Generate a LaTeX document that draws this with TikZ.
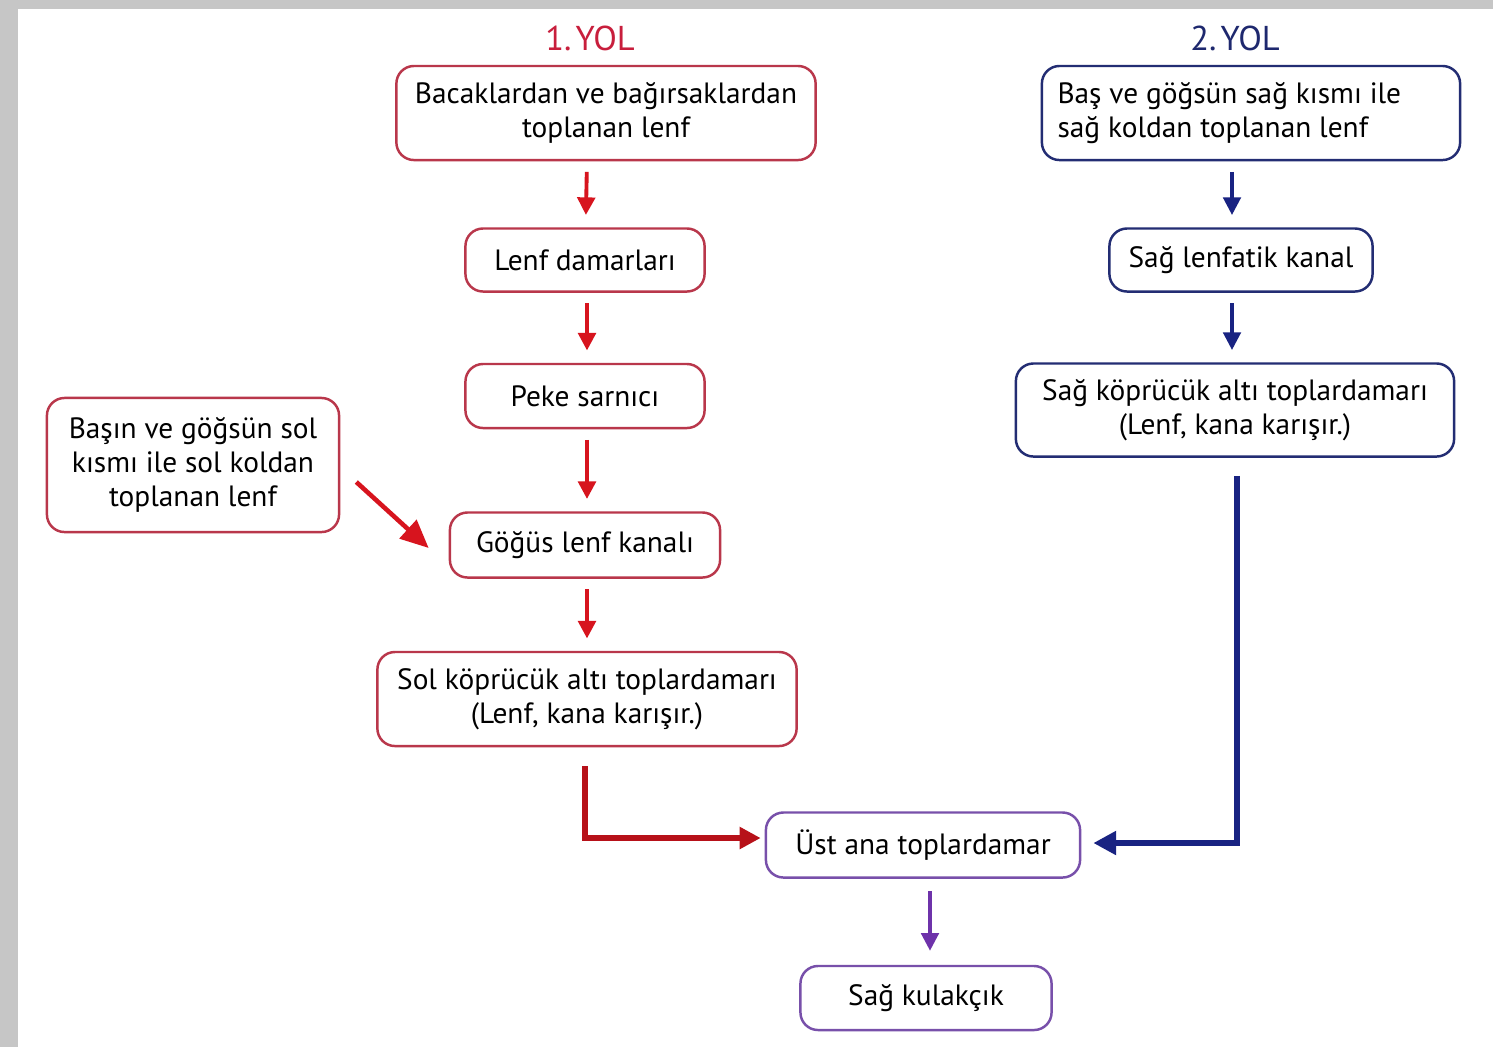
\documentclass[tikz,border=0pt]{standalone}
\usepackage{fontspec}
\setmainfont{PT Sans}
\usetikzlibrary{arrows.meta}

\definecolor{yolred}{RGB}{200,30,60}
\definecolor{boxred}{RGB}{185,55,75}
\definecolor{arrred}{RGB}{215,20,30}
\definecolor{yolblue}{RGB}{30,40,110}
\definecolor{boxblue}{RGB}{35,45,115}
\definecolor{arrblue}{RGB}{25,35,130}
\definecolor{boxpurple}{RGB}{120,80,170}
\definecolor{arrpurple}{RGB}{110,50,170}

\begin{document}
\begin{tikzpicture}[x=0.01cm,y=-0.01cm,
    box/.style={draw,line width=0.7pt,rounded corners=5pt,fill=white,align=center,
      inner sep=0pt,font=\fontsize{8.35}{9.7}\selectfont},
    redbox/.style={box,draw=boxred},
    bluebox/.style={box,draw=boxblue},
    purplebox/.style={box,draw=boxpurple},
    title/.style={font=\fontsize{9.8}{11}\selectfont},
    redarrow/.style={draw=arrred,line width=1.1pt,-{Triangle[length=5pt,width=5pt]},shorten <=3pt,shorten >=3.5pt},
    bluearrow/.style={draw=arrblue,line width=0.9pt,-{Triangle[length=5pt,width=5pt]},shorten <=3pt,shorten >=3.5pt},
    purplearrow/.style={draw=arrpurple,line width=0.9pt,-{Triangle[length=5pt,width=5pt]},shorten <=3.5pt,shorten >=4pt},
    thickred/.style={draw=arrred!85!black,line width=1.6pt,-{Triangle[length=6pt,width=6pt]}},
    thickblue/.style={draw=arrblue,line width=1.9pt,-{Triangle[length=6.5pt,width=6.5pt]}}]

  \useasboundingbox (0,0) rectangle (1493,1047);
  \fill[gray!45] (0,0) rectangle (1493,1047);
  \fill[white] (18,9) rectangle (1493,1047);

  % titles
  \node[title,text=yolred] (yol1) at (590,38) {1.\hspace{0.12em}YOL};
  \node[title,text=yolblue] (yol2) at (1235,38) {2.\hspace{0.12em}YOL};

  % 1. yol
  \node[redbox,minimum width=4.19cm,minimum height=0.94cm] (bacak) at (606,113)
    {Bacaklardan ve bağırsaklardan\\toplanan lenf};
  \node[redbox,minimum width=2.39cm,minimum height=0.63cm] (damar) at (585,260) {Lenf damarları};
  \node[redbox,minimum width=2.39cm,minimum height=0.64cm] (peke) at (585,396) {Peke sarnıcı};
  \node[redbox,minimum width=2.7cm,minimum height=0.65cm] (gogus) at (585,545) {Göğüs lenf kanalı};
  \node[redbox,minimum width=4.19cm,minimum height=0.94cm] (solkop) at (587,699)
    {Sol köprücük altı toplardamarı\\(Lenf, kana karışır.)};
  \node[redbox,minimum width=2.92cm,minimum height=1.34cm] (solbas) at (193,465)
    {Başın ve göğsün sol\\kısmı ile sol koldan\\toplanan lenf};

  % 2. yol
  \node[bluebox,minimum width=4.18cm,minimum height=0.94cm,align=left] (sagbas) at (1251,113)
    {Baş ve göğsün sağ kısmı ile\\sağ koldan toplanan lenf\hspace*{2.6em}};
  \node[bluebox,minimum width=2.63cm,minimum height=0.63cm] (lenfatik) at (1241,260) {Sağ lenfatik kanal};
  \node[bluebox,minimum width=4.38cm,minimum height=0.93cm] (sagkop) at (1235,410)
    {Sağ köprücük altı toplardamarı\\(Lenf, kana karışır.)};

  % ortak
  \node[purplebox,minimum width=3.14cm,minimum height=0.65cm] (ustana) at (923,845) {Üst ana toplardamar};
  \node[purplebox,minimum width=2.51cm,minimum height=0.64cm] (kulak) at (926,998) {Sağ kulakçık};

  % oklar
  \draw[redarrow] ([shift={(-19,0)}]bacak.south) -- (damar);
  \draw[redarrow] ([shift={(2,0)}]damar.south) -- ([shift={(2,0)}]peke.north);
  \draw[redarrow] ([shift={(2,0)}]peke.south) -- ([shift={(2,0)}]gogus.north);
  \draw[redarrow] ([shift={(2,0)}]gogus.south) -- (solkop);
  \draw[draw=arrred,line width=1.3pt,-{Triangle[length=8pt,width=7pt]}]
    ([shift={(16,17)}]solbas.east) -- ([shift={(-20,3)}]gogus.west);
  \draw[bluearrow] ([shift={(-19,0)}]sagbas.south) -- ([shift={(-9,0)}]lenfatik.north);
  \draw[bluearrow] ([shift={(-9,0)}]lenfatik.south) -- ([shift={(-3,0)}]sagkop.north);
  \draw[thickred] ([shift={(-2,19)}]solkop.south) |- ([shift={(-4,-7)}]ustana.west);
  \draw[thickblue] ([shift={(2,18)}]sagkop.south) |- ([shift={(12,-2)}]ustana.east);
  \draw[purplearrow] ([shift={(7,0)}]ustana.south) -- ([shift={(4,0)}]kulak.north);
\end{tikzpicture}
\end{document}
